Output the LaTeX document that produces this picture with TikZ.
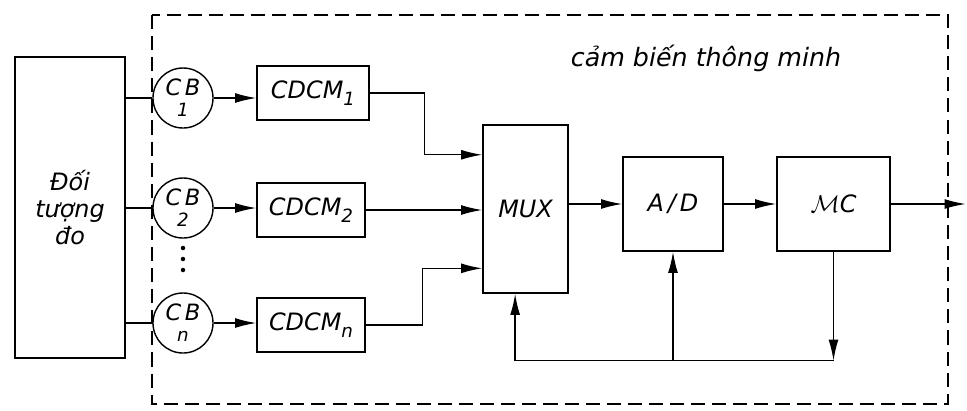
\documentclass[tikz,border=0pt]{standalone}
\usepackage{fontspec}
\setmainfont{DejaVu Sans}
\usetikzlibrary{arrows.meta,positioning,calc}
\newcommand{\blkfont}{\fontsize{17}{19}\selectfont\itshape}
\newcommand{\idx}[1]{\raisebox{-5pt}{\fontsize{13}{13}\selectfont #1}}
\tikzset{
  blk/.style={draw,line width=1pt,font=\blkfont,inner sep=0pt},
  sensor/.style={draw,circle,line width=1pt,minimum size=1.5cm,font=\fontsize{16}{17}\selectfont\itshape,align=center,inner sep=0pt},
  wire/.style={line width=1pt},
  sig/.style={wire,-{Latex[length=15pt,width=7pt]}},
}

\begin{document}
\begin{tikzpicture}[x=0.025cm,y=-0.025cm]
  \useasboundingbox (0,0) rectangle (967,410);
  % smart sensor boundary
  \draw[line width=1.2pt,dash pattern=on 10pt off 5pt] (152,15) rectangle (948,404);
  \node[font=\fontsize{18}{20}\selectfont\itshape] (title) at (706,58) {cảm biến thông minh};
  % measured object and sensors
  \node[blk,minimum width=2.75cm,minimum height=7.525cm,align=center] (obj) at (70,207.5) {Đối\\tượng\\đo};
  \node[sensor] (cb1) at (183,98) {C\,B\\[-2pt]{\fontsize{13}{13}\selectfont 1}};
  \node[sensor] (cb2) at (183,208) {C\,B\\[-2pt]{\fontsize{13}{13}\selectfont 2}};
  \node[sensor] (cbn) at (183,323) {C\,B\\[-2pt]{\fontsize{13}{13}\selectfont n}};
  \foreach \y in {248,259,270}
    \fill (183,\y) circle (1.6pt);
  \draw[wire] (cb1.west) -- (cb1.west -| obj.east);
  \draw[wire] (cb2.west) -- (cb2.west -| obj.east);
  \draw[wire] (cbn.west) -- (cbn.west -| obj.east);
  % conditioning blocks
  \node[blk,minimum width=2.8cm,minimum height=1.35cm] (cd1) at (313,93) {CDCM\idx{1}};
  \node[blk,minimum width=2.7cm,minimum height=1.35cm] (cd2) at (311,210) {CDCM\idx{2}};
  \node[blk,minimum width=2.7cm,minimum height=1.35cm] (cdn) at (311,325) {CDCM\idx{n}};
  \draw[sig] (cb1.east) -- (cb1.east -| cd1.west);
  \draw[sig] (cb2.east) -- (cb2.east -| cd2.west);
  \draw[sig] (cbn.east) -- (cbn.east -| cdn.west);
  % multiplexer, converter, controller
  \node[blk,minimum width=2.125cm,minimum height=4.2cm] (mux) at (525.5,209) {MUX};
  \node[blk,minimum width=2.5cm,minimum height=2.35cm] (adc) at (673,204) {A\,/\,D};
  \node[blk,minimum width=2.825cm,minimum height=2.35cm] (mcu) at (833.5,204) {$\mathcal{M}$C};
  \draw[sig] (cd1.east) -- ++(55,0) |- ($(mux.north west)!0.18!(mux.south west)$);
  \draw[sig] (cd2.east) -- (cd2.east -| mux.west);
  \draw[sig] (cdn.east) -- ++(57,0) |- ($(mux.north west)!0.85!(mux.south west)$);
  \draw[sig] (adc.west -| mux.east) -- (adc.west);
  \draw[sig] (adc) -- (mcu);
  \draw[sig] (mcu.east) -- ++(75,0);
  % feedback
  \coordinate (fb) at ($(mcu.south)+(0,109)$);
  \draw[sig] (mcu.south) -- (fb);
  \draw[sig] (fb) -| ($(mux.south west)!0.38!(mux.south east)$);
  \draw[sig] (fb -| adc.south) -- (adc.south);
\end{tikzpicture}
\end{document}
